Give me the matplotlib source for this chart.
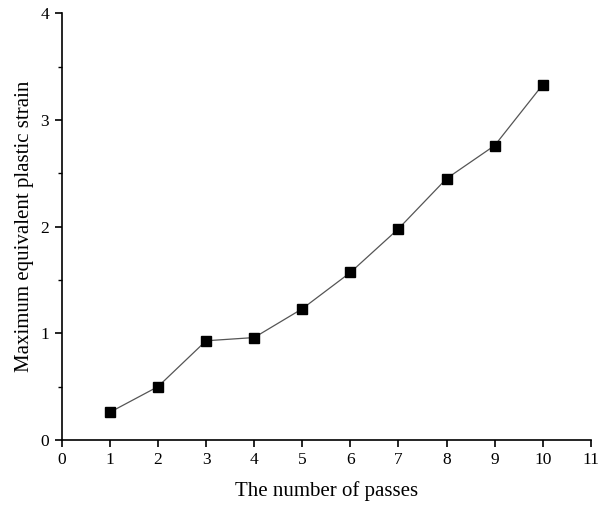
import matplotlib
matplotlib.use("Agg")
import matplotlib.pyplot as plt
from matplotlib.ticker import MultipleLocator

passes = [1, 2, 3, 4, 5, 6, 7, 8, 9, 10]
strain = [0.26, 0.50, 0.93, 0.96, 1.23, 1.57, 1.98, 2.45, 2.76, 3.33]
x_ticks = list(range(0, 12))
y_ticks = [0, 1, 2, 3, 4]

plt.rcParams['font.family'] = ['Liberation Serif', 'DejaVu Serif']

fig = plt.figure(figsize=(6.06, 5.09), dpi=100)
ax = fig.add_axes([0.102, 0.1356, 0.873, 0.8384])
ax.plot(passes, strain, color='#555555', linewidth=0.9, marker='s',
        markersize=6.5, markerfacecolor='black', markeredgecolor='black')

ax.set_xlim(0, 11)
ax.set_ylim(0, 4)
ax.set_xticks(x_ticks)
ax.set_yticks(y_ticks)
ax.yaxis.set_minor_locator(MultipleLocator(0.5))
ax.spines['top'].set_visible(False)
ax.spines['right'].set_visible(False)
for s in ['left', 'bottom']:
    ax.spines[s].set_linewidth(1.2)
ax.tick_params(axis='both', which='major', direction='out', length=5, width=1.2,
               labelsize=12.5, pad=4)
ax.tick_params(axis='y', which='minor', direction='out', length=3, width=1.0)
ax.set_xlabel('The number of passes', fontsize=15, labelpad=9)
ax.set_ylabel('Maximum equivalent plastic strain', fontsize=15, labelpad=5)

fig.savefig('out.png', dpi=100)
